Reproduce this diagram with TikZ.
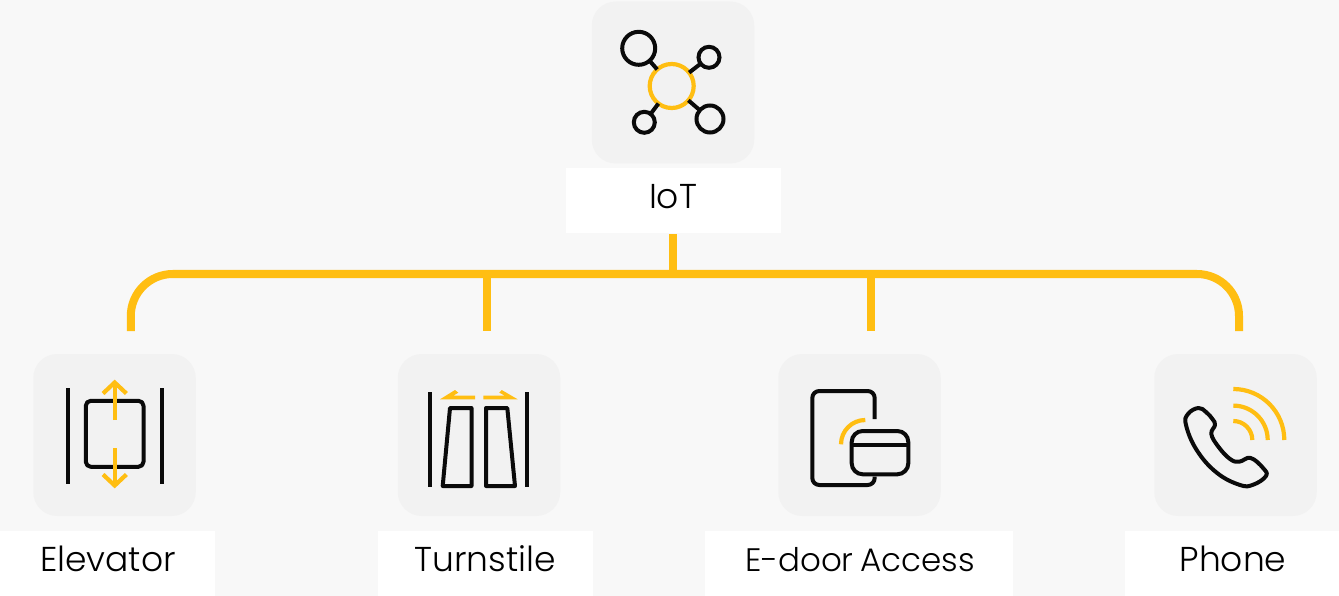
\documentclass[tikz,border=0pt]{standalone}
\usepackage{fontspec}
\setmainfont{Poppins Light}
\definecolor{pagebg}{HTML}{F8F8F8}
\definecolor{tilebg}{HTML}{F2F2F2}
\definecolor{amber}{HTML}{FFBE12}
\definecolor{ink}{HTML}{0A0A0A}
\tikzset{
  tile/.style={fill=tilebg,rounded corners=24pt,minimum width=162.5pt,minimum height=162pt,inner sep=0pt,outer sep=0pt},
  caption/.style={fill=white,minimum height=65pt,inner sep=0pt,outer sep=0pt,text=black},
  captext/.style={font=\fontsize{34.5}{40}\selectfont,inner sep=0pt,text=black,anchor=base},
  trunk/.style={draw=amber,line width=8pt},
  ic/.style={draw=ink,line width=4pt,line join=round},
  icy/.style={draw=amber,line width=4.2pt},
  dot/.style={circle,draw=ink,line width=4pt,inner sep=0pt,outer sep=0pt},
}
\begin{document}
\begin{tikzpicture}[x=1pt,y=-1pt]
\fill[pagebg] (0,0) rectangle (1339,596);
\useasboundingbox (0,0) rectangle (1339,596);

% tiles
\node[tile] (tileiot) at (673,82.5) {};
\node[tile] (tilelift) at (114.5,435) {};
\node[tile] (tileturn) at (479,435) {};
\node[tile] (tiledoor) at (859.5,435) {};
\node[tile] (tilephone) at (1235.5,435) {};

% caption panels
\node[caption,minimum width=215pt] (capiot) at (673.5,200.5) {};
\node[caption,minimum width=215pt] (caplift) at (107.5,563.5) {};
\node[caption,minimum width=215pt] (capturn) at (485.5,563.5) {};
\node[caption,minimum width=308pt] (capdoor) at (859,563.5) {};
\node[caption,minimum width=214pt] (capphone) at (1232,563.5) {};

% caption texts
\node[captext] (tiot) at (673,208.5) {IoT};
\node[captext] (tlift) at (108,571.5) {Elevator};
\node[captext] (tturn) at (485,571.5) {Turnstile};
\node[captext,font=\fontsize{32.5}{40}\selectfont] (tdoor) at (860,571.5) {E-door\hspace{-2pt} Access};
\node[captext] (tphone) at (1233,571.5) {Phone};

% trunk connectors
\coordinate (endlift) at (130.8,331);
\coordinate (endturn) at (487,331);
\coordinate (enddoor) at (870.5,331);
\coordinate (endphone) at (1239,331);
\coordinate (bus) at (673,274);
\draw[trunk,rounded corners=42pt] (endlift) -- (endlift |- bus) -- (endphone |- bus) -- (endphone);
\draw[trunk] (capiot.south -| bus) ++(0,1) -- (bus);
\draw[trunk] (endturn |- bus) -- (endturn);
\draw[trunk] (enddoor |- bus) -- (enddoor);

% IoT icon
\node[dot,minimum size=33pt] (n1) at (638.7,48.3) {};
\node[dot,minimum size=21pt] (n2) at (709,57.3) {};
\node[dot,minimum size=21pt] (n3) at (644.3,122.3) {};
\node[dot,minimum size=27pt] (n4) at (710,119) {};
\node[circle,draw=amber,line width=4.2pt,minimum size=44pt,inner sep=0pt,outer sep=0pt] (hub) at (671.7,86) {};
\draw[ic] (hub) -- (n1);
\draw[ic] (hub) -- (n2);
\draw[ic] (hub) -- (n3);
\draw[ic] (hub) -- (n4);

% Elevator icon
\draw[ic,line width=4.2pt] (67.7,388) -- (67.7,484);
\draw[ic,line width=4.2pt] (161.7,388) -- (161.7,484);
\draw[ic,rounded corners=5pt] (85.8,400.8) rectangle (143.5,466.8);
\draw[icy] (114.7,420) -- (114.7,384);
\draw[icy,line join=miter] (103,393.5) -- (114.7,382.5) -- (126.4,393.5);
\draw[icy] (114.7,448) -- (114.7,484);
\draw[icy,line join=miter] (103,474.5) -- (114.7,485.5) -- (126.4,474.5);

% Turnstile icon
\draw[ic,line width=4.2pt] (430.3,392) -- (430.3,487);
\draw[ic,line width=4.2pt] (526.7,392) -- (526.7,487);
\draw[ic] (450,408) -- (471.5,408) -- (471.5,486) -- (442.7,486) -- cycle;
\draw[ic] (486,408) -- (507.3,408) -- (515,486) -- (486,486) -- cycle;
\fill[amber] (440,399.3) -- (455,390) -- (458.3,392.7) -- (453.3,395.7) -- (475,395.7) -- (475,399.3) -- cycle;
\fill[amber] (517.7,399.3) -- (501.7,390) -- (499.3,392.7) -- (505,395.7) -- (483.3,395.7) -- (483.3,399.3) -- cycle;

% E-door icon
\draw[ic,rounded corners=7pt] (874.7,419) -- (874.7,391) -- (812.3,391) -- (812.3,485) -- (874.7,485) -- (874.7,476.5);
\draw[ic,rounded corners=11pt] (851.7,431) rectangle (908.3,474.3);
\draw[ic] (851.7,445) -- (908.3,445);
\draw[icy] (841,444.3) arc[start angle=180,end angle=90,radius=24.3pt];

% Phone icon
\draw[icy] (1233.3,389) arc[start angle=90,end angle=0,radius=51pt];
\draw[icy] (1233.3,405.6) arc[start angle=90,end angle=0,radius=34.4pt];
\draw[icy] (1233.3,421) arc[start angle=90,end angle=0,radius=19pt];
\begin{scope}[shift={(1150,350)},x=0.3333pt,y=-0.3333pt]
\draw[ic] plot[smooth cycle,tension=0.7] coordinates {
 (145,174) (168,186) (188,208) (195,225) (184,252) (205,290) (240,327) (268,335)
 (302,324) (340,355) (348,378) (310,404) (270,405) (200,368) (140,300) (108,225) (114,192)};
\end{scope}
\end{tikzpicture}
\end{document}
